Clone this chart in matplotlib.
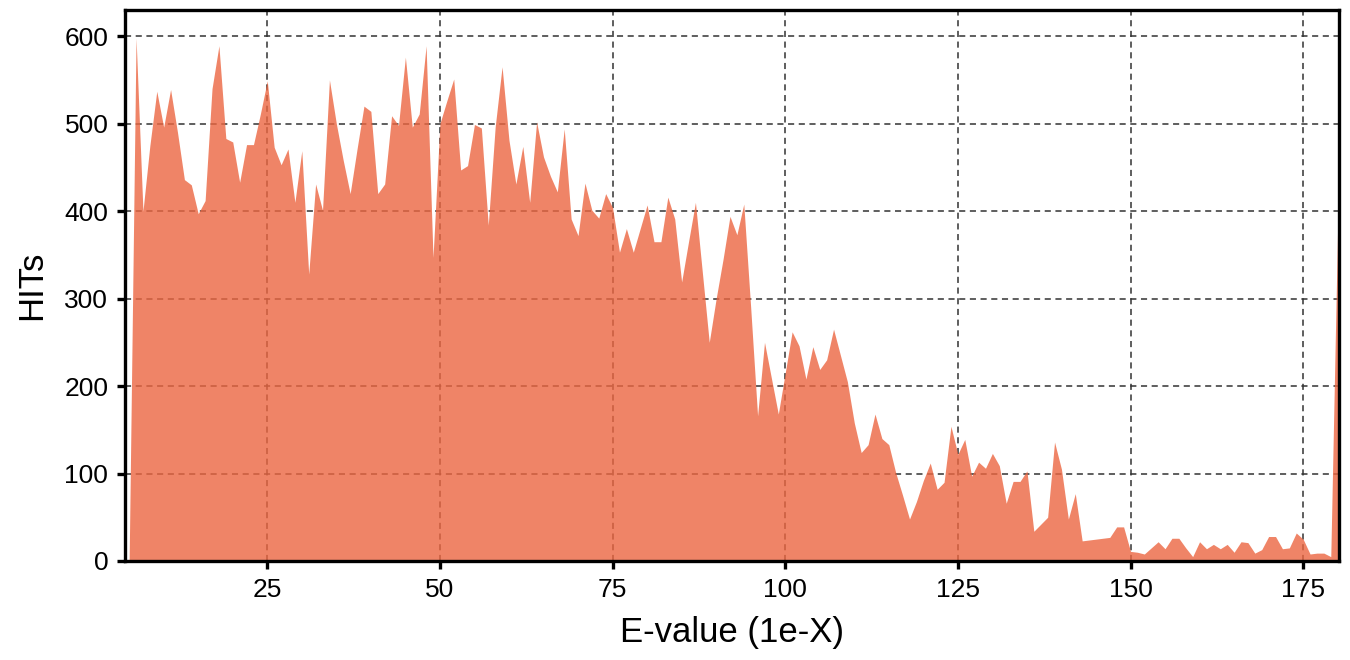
import matplotlib
matplotlib.use("Agg")
import matplotlib.pyplot as plt
import numpy as np

plt.rcParams['font.family'] = ['Liberation Sans', 'DejaVu Sans']

evalue_x = list(range(4, 181))
hits = [
    0, 0, 598, 400, 475, 537, 496, 539, 490, 436,   # 4-13
    430, 397, 412, 540, 589, 483, 479, 433, 476, 476,  # 14-23
    511, 549, 473, 453, 471, 410, 469, 328, 431, 401,  # 24-33
    550, 500, 458, 420, 471, 520, 514, 420, 431, 509,  # 34-43
    498, 576, 496, 511, 589, 347, 500, 526, 551, 447,  # 44-53
    452, 499, 495, 384, 496, 565, 481, 431, 474, 410,  # 54-63
    502, 462, 440, 422, 494, 391, 372, 432, 401, 392,  # 64-73
    420, 404, 353, 380, 353, 380, 407, 365, 365, 416,  # 74-83
    391, 319, 365, 410, 330, 250, 300, 345, 394, 373,  # 84-93
    408, 290, 166, 250, 209, 168, 215, 262, 246, 208,  # 94-103
    245, 219, 230, 265, 235, 205, 158, 124, 133, 168,  # 104-113
    140, 133, 101, 75, 48, 68, 92, 112, 82, 90,       # 114-123
    154, 122, 139, 97, 113, 106, 123, 109, 66, 91,    # 124-133
    91, 103, 34, 42, 50, 136, 105, 48, 77, 23,        # 134-143
    24, 25, 26, 27, 39, 39, 11, 10, 8, 15,            # 144-153
    22, 14, 26, 26, 15, 5, 22, 14, 19, 14,            # 154-163
    19, 10, 22, 21, 9, 13, 28, 28, 14, 15,            # 164-173
    32, 25, 8, 9, 9, 5, 385,                          # 174-180
]

x_ticks = [25, 50, 75, 100, 125, 150, 175]
y_ticks = [0, 100, 200, 300, 400, 500, 600]
x_label = "E-value (1e-X)"
y_label = "HITs"

fig = plt.figure(figsize=(13.5, 6.6), dpi=100)
ax = fig.add_axes([0.0926, 0.15, 0.8993, 0.835])

ax.fill_between(evalue_x, hits, 0, color='#EC6641', alpha=0.8, linewidth=0)

ax.set_xlim(4.4, 180.2)
ax.set_ylim(0, 630)
ax.set_xticks(x_ticks)
ax.set_yticks(y_ticks)
ax.set_axisbelow(True)
ax.grid(True, linestyle=(0, (4, 3)), color='#333333', linewidth=1.1)

for s in ax.spines.values():
    s.set_linewidth(2.4)
    s.set_color('black')
ax.tick_params(axis='both', which='major', length=6, width=2.4, labelsize=19,
               colors='black', direction='out', pad=6)

ax.set_xlabel(x_label, fontsize=25, labelpad=10)
ax.set_ylabel(y_label, fontsize=25, labelpad=12)

fig.savefig("out.png", dpi=100, facecolor='white')
